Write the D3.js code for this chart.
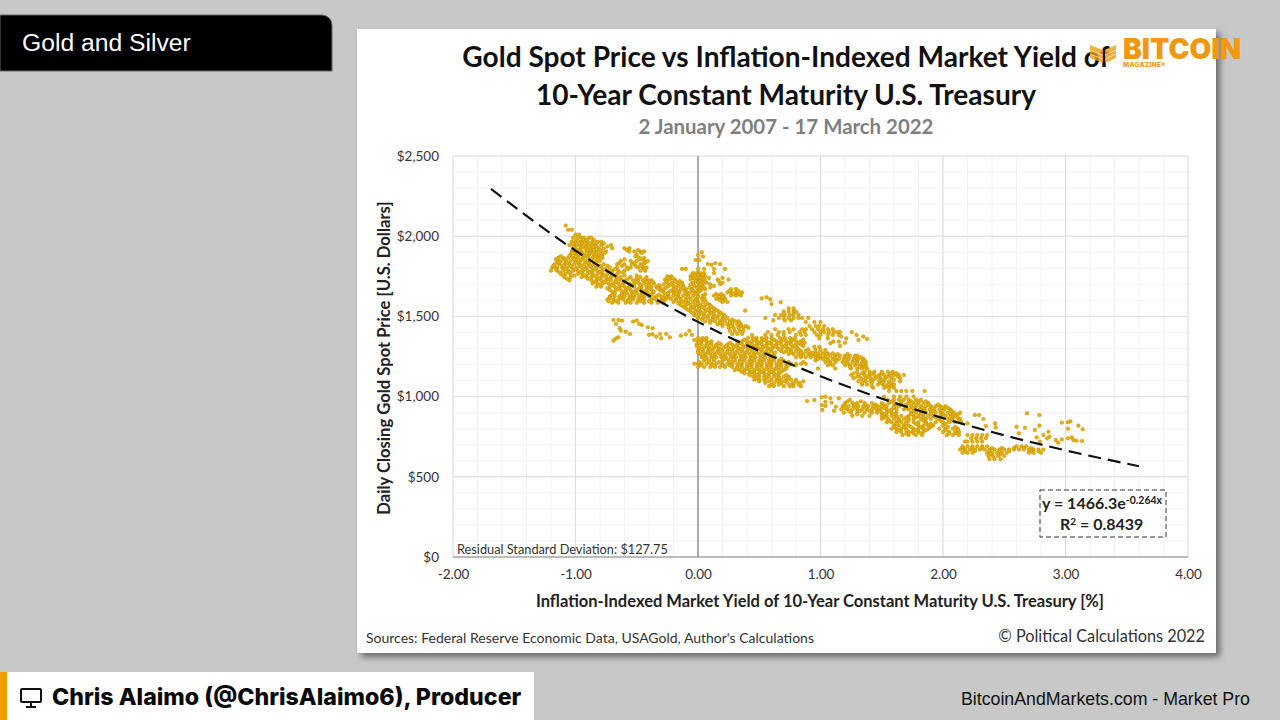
<!DOCTYPE html>
<html>
<head>
<meta charset="utf-8">
<script src="https://cdn.jsdelivr.net/npm/d3@7"></script>
<style>
  html, body { margin: 0; padding: 0; background: #c8c8c8; overflow: hidden; }
  svg { display: block; }
  text { font-family: Lato, sans-serif; }
</style>
</head>
<body>
<svg id="chart" width="1280" height="720"></svg>
<script>
// values: rows of [price, [yields at that price]]
const negativeYieldCluster = [
  [2066, [-1.08]], [2040, [-1.06, -1.03]], [2010, [-1.0, -0.97]],
  [1990, [-1.02, -0.98, -0.95, -0.93, -0.89, -0.87]],
  [1965, [-1.03, -1.0, -0.96, -0.93, -0.9, -0.86, -0.82, -0.79]],
  [1945, [-1.05, -1.01, -0.98, -0.95, -0.91, -0.87, -0.84, -0.79, -0.71]],
  [1925, [-1.0, -0.96, -0.92, -0.88, -0.85, -0.81, -0.77, -0.7, -0.6, -0.56]],
  [1905, [-1.03, -0.99, -0.95, -0.91, -0.87, -0.83, -0.79, -0.75, -0.56, -0.52, -0.47, -0.44]],
  [1885, [-1.04, -1.0, -0.97, -0.93, -0.89, -0.85, -0.81, -0.78, -0.5]],
  [1865, [-1.14, -1.1, -1.06, -1.02, -0.98, -0.94, -0.9, -0.86, -0.82, -0.78, -0.48, -0.44]],
  [1845, [-1.15, -1.12, -1.08, -1.04, -1.0, -0.96, -0.92, -0.88, -0.84, -0.8, -0.63, -0.55, -0.5, -0.44, -0.41]],
  [1825, [-1.17, -1.13, -1.09, -1.05, -1.01, -0.97, -0.93, -0.89, -0.85, -0.77, -0.66, -0.6, -0.54, -0.47, -0.45]],
  [1805, [-1.19, -1.15, -1.11, -1.07, -1.03, -0.99, -0.95, -0.91, -0.87, -0.83, -0.79, -0.72, -0.66, -0.58, -0.55, -0.49, -0.45, -0.42]],
  [1785, [-1.2, -1.15, -1.1, -1.06, -1.02, -0.98, -0.94, -0.9, -0.86, -0.82, -0.78, -0.74, -0.7, -0.65, -0.6, -0.47, -0.43]],
  [1765, [-1.12, -1.08, -1.04, -0.98, -0.94, -0.9, -0.86, -0.82, -0.78, -0.74, -0.7, -0.66]],
  [1745, [-1.09, -1.04, -0.95, -0.91, -0.87, -0.83, -0.79, -0.75, -0.71, -0.67, -0.63, -0.55, -0.47, -0.42]],
  [1725, [-1.05, -0.87, -0.83, -0.79, -0.75, -0.71, -0.67, -0.63, -0.59, -0.53, -0.49, -0.45, -0.41, -0.38]],
  [1705, [-0.86, -0.82, -0.78, -0.73, -0.69, -0.65, -0.61, -0.56, -0.52, -0.48, -0.44, -0.4, -0.36]],
  [1685, [-0.83, -0.79, -0.72, -0.68, -0.64, -0.6, -0.56, -0.52, -0.46, -0.42, -0.38, -0.34, -0.31]],
  [1665, [-0.72, -0.67, -0.63, -0.59, -0.55, -0.5, -0.46, -0.42, -0.38, -0.31]],
  [1645, [-0.68, -0.62, -0.58, -0.54, -0.5, -0.46, -0.41, -0.37]],
  [1625, [-0.72, -0.68, -0.64, -0.6, -0.56, -0.52, -0.48, -0.44, -0.4, -0.34, -0.3]],
  [1605, [-0.74, -0.69, -0.65, -0.61, -0.57, -0.53, -0.49, -0.44, -0.38, -0.34, -0.3, -0.27]],
  [1585, [-0.7, -0.65, -0.59, -0.55, -0.5, -0.44, -0.38, -0.33, -0.28]],
  [1478, [-0.69, -0.65]], [1474, [-0.62, -0.5]], [1468, [-0.53]], [1453, [-0.67, -0.48]], [1447, [-0.46]],
  [1432, [-0.41]], [1426, [-0.64, -0.37]], [1411, [-0.63, -0.07]], [1405, [-0.59]],
  [1390, [-0.555, -0.31, -0.26]], [1388, [-0.37, -0.1]], [1385, [-0.4, -0.05]], [1380, [-0.14]],
  [1374, [-0.34]], [1370, [-0.65, -0.23]], [1364, [-0.3]], [1362, [-0.67]], [1353, [-0.03]], [1349, [-0.69]]
];

const negativeYieldInfill = [
  [1978, [-0.99, -0.94, -0.91, -0.85]], [1955, [-1.02, -0.97, -0.92, -0.88, -0.83, -0.77]],
  [1936, [-1.02, -0.94, -0.89, -0.83, -0.74]], [1914, [-1.01, -0.97, -0.9, -0.85, -0.8, -0.58, -0.49]],
  [1896, [-1.02, -0.95, -0.88, -0.83, -0.76, -0.46]], [1875, [-1.12, -1.05, -1.0, -0.91, -0.84, -0.79, -0.51]],
  [1856, [-1.16, -1.09, -1.01, -0.95, -0.87, -0.81, -0.6, -0.47]], [1835, [-1.14, -1.07, -0.98, -0.9, -0.83, -0.64, -0.52, -0.43]],
  [1815, [-1.18, -1.1, -1.04, -0.96, -0.88, -0.8, -0.74, -0.62, -0.51, -0.46]], [1795, [-1.16, -1.08, -1.0, -0.92, -0.84, -0.76, -0.68, -0.57, -0.44]],
  [1775, [-1.13, -1.05, -0.96, -0.88, -0.8, -0.72, -0.64, -0.61]], [1755, [-1.1, -1.01, -0.93, -0.85, -0.77, -0.69, -0.6, -0.5]],
  [1735, [-1.07, -0.9, -0.81, -0.73, -0.65, -0.57, -0.5, -0.43]], [1715, [-0.84, -0.76, -0.67, -0.6, -0.5, -0.42, -0.37]],
  [1695, [-0.8, -0.7, -0.62, -0.54, -0.47, -0.4, -0.32]], [1675, [-0.74, -0.65, -0.57, -0.48, -0.4, -0.33]],
  [1655, [-0.7, -0.6, -0.52, -0.44, -0.36]], [1635, [-0.7, -0.62, -0.53, -0.46, -0.38, -0.32]],
  [1615, [-0.72, -0.63, -0.55, -0.46, -0.36, -0.28]], [1595, [-0.73, -0.67, -0.57, -0.47, -0.4, -0.3]]
];

const zeroYieldSpike = [
  [1900, [0.03]], [1883, [0.0]], [1873, [0.04]], [1852, [-0.02, 0.01]], [1831, [0.14]], [1827, [0.08, 0.18]], [1821, [0.11]],
  [1796, [-0.13, -0.1, 0.0, 0.05, 0.13, 0.22]],
  [1770, [-0.04, -0.01, 0.02, 0.05, 0.13]],
  [1750, [-0.25, -0.22, -0.06, -0.03, 0.0, 0.03, 0.06]],
  [1730, [-0.27, -0.23, -0.19, -0.06, -0.02, 0.02, 0.05, 0.16, 0.25]],
  [1710, [-0.25, -0.21, -0.17, -0.13, -0.04, 0.0, 0.04, 0.07, 0.2]],
  [1690, [-0.24, -0.2, -0.16, -0.12, -0.03, 0.01, 0.04, 0.13]],
  [1670, [-0.28, -0.2, -0.14, -0.1, -0.05, 0.0, 0.03, 0.06, 0.27, 0.31]],
  [1650, [-0.28, -0.24, -0.2, -0.15, -0.09, -0.06, -0.02, 0.0, 0.24, 0.27, 0.31, 0.36]],
  [1630, [-0.27, -0.24, -0.2, -0.16, -0.12, -0.08, -0.04, 0.0, 0.04, 0.13, 0.17, 0.21, 0.27, 0.31, 0.35]],
  [1610, [-0.26, -0.22, -0.18, -0.14, -0.1, -0.06, -0.02, 0.03, 0.15, 0.19, 0.22]],
  [1590, [-0.2, -0.15, -0.12, -0.08, -0.04, 0.0, 0.04, 0.2, 0.24]],
  [1570, [-0.14, -0.1, -0.06, -0.02, 0.02, 0.06, 0.1]],
  [1550, [-0.1, -0.06, -0.03, 0.01, 0.05, 0.09, 0.13]],
  [1530, [-0.06, -0.02, 0.02, 0.06, 0.1, 0.13, 0.17]],
  [1510, [-0.03, 0.01, 0.05, 0.09, 0.13, 0.17, 0.21]],
  [1490, [0.0, 0.04, 0.08, 0.12, 0.16, 0.2, 0.24]],
  [1470, [0.06, 0.1, 0.14, 0.18, 0.22, 0.26, 0.3, 0.33]],
  [1450, [0.16, 0.2, 0.24, 0.28, 0.32, 0.35]],
  [1430, [0.25, 0.29, 0.33, 0.37, 0.41]],
  [1410, [0.26, 0.3, 0.34, 0.37]], [1390, [0.28, 0.32, 0.36]]
];

const zeroYieldInfill = [
  [1760, [-0.05, 0.0, 0.04]], [1740, [-0.24, -0.21, -0.04, 0.03, 0.09, 0.2]], [1720, [-0.26, -0.19, -0.15, -0.02, 0.02, 0.06, 0.17]],
  [1700, [-0.28, -0.22, -0.14, -0.06, 0.02, 0.1, 0.18]], [1680, [-0.26, -0.18, -0.12, -0.07, -0.01, 0.05, 0.1]],
  [1660, [-0.3, -0.22, -0.17, -0.11, -0.04, 0.02, 0.26, 0.33]], [1640, [-0.25, -0.18, -0.1, -0.02, 0.06, 0.15, 0.19, 0.29, 0.33]],
  [1620, [-0.24, -0.16, -0.08, 0.0, 0.05, 0.17, 0.2]], [1600, [-0.18, -0.1, -0.02, 0.06, 0.18, 0.22]], [1580, [-0.16, -0.08, 0.0, 0.08]],
  [1560, [-0.12, -0.04, 0.03, 0.11]], [1540, [-0.08, 0.0, 0.08, 0.15]], [1520, [-0.04, 0.03, 0.11, 0.19]], [1500, [-0.01, 0.06, 0.14, 0.22]],
  [1480, [0.03, 0.12, 0.2, 0.28]], [1460, [0.1, 0.18, 0.26, 0.34]], [1440, [0.2, 0.27, 0.35, 0.39]]
];

const mainCluster = [
  [1365, [0.0, 0.04, 0.07, 0.41, 0.45, 0.48, 0.52, 0.56, 0.6, 0.67, 0.71, 0.75, 0.79]],
  [1345, [0.0, 0.03, 0.07, 0.11, 0.32, 0.36, 0.4, 0.44, 0.48, 0.52, 0.56, 0.6, 0.64, 0.68, 0.72, 0.76, 0.8, 0.84]],
  [1325, [-0.01, 0.03, 0.07, 0.11, 0.15, 0.19, 0.24, 0.28, 0.32, 0.36, 0.4, 0.44, 0.48, 0.52, 0.56, 0.6, 0.64, 0.68, 0.72, 0.76, 0.8, 0.84]],
  [1305, [0.01, 0.05, 0.09, 0.13, 0.17, 0.21, 0.25, 0.29, 0.33, 0.37, 0.41, 0.45, 0.49, 0.53, 0.57, 0.61, 0.65, 0.69, 0.73, 0.77, 0.81]],
  [1285, [0.0, 0.04, 0.08, 0.12, 0.16, 0.2, 0.24, 0.28, 0.32, 0.36, 0.4, 0.44, 0.48, 0.52, 0.56, 0.6, 0.68, 0.72, 0.76, 0.8, 0.84, 0.88]],
  [1265, [0.02, 0.06, 0.1, 0.14, 0.18, 0.22, 0.26, 0.3, 0.34, 0.38, 0.42, 0.46, 0.5, 0.54, 0.58, 0.62, 0.74, 0.78, 0.82, 0.86, 0.9, 0.94]],
  [1245, [0.03, 0.07, 0.11, 0.15, 0.19, 0.23, 0.27, 0.31, 0.35, 0.39, 0.43, 0.47, 0.51, 0.55, 0.59, 0.63, 0.8, 0.84, 0.88, 0.92, 0.96, 1.0]],
  [1225, [0.05, 0.09, 0.13, 0.2, 0.25, 0.3, 0.34, 0.38, 0.42, 0.46, 0.5, 0.54, 0.58, 0.62, 0.66, 0.7, 0.96]],
  [1205, [-0.03, 0.0, 0.03, 0.07, 0.11, 0.15, 0.2, 0.24, 0.28, 0.32, 0.36, 0.4, 0.44, 0.48, 0.52, 0.56, 0.6, 0.64, 0.68, 0.72, 0.76, 0.8, 0.84, 0.88]],
  [1185, [0.0, 0.05, 0.1, 0.14, 0.18, 0.22, 0.28, 0.32, 0.36, 0.4, 0.44, 0.48, 0.52, 0.56, 0.6, 0.64, 0.68, 0.72]],
  [1165, [0.3, 0.34, 0.38, 0.42, 0.46, 0.5, 0.54, 0.58, 0.62, 0.66, 0.7]],
  [1145, [0.38, 0.42, 0.46, 0.5, 0.54, 0.58, 0.62, 0.66]],
  [1125, [0.45, 0.5, 0.54, 0.58, 0.62, 0.66, 0.7, 0.74]],
  [1105, [0.46, 0.5, 0.54, 0.6, 0.64, 0.68, 0.72, 0.76, 0.8]],
  [1085, [0.55, 0.62, 0.68, 0.73, 0.78, 0.83]],
  [1065, [0.58, 0.62, 0.7, 0.75, 0.78, 0.84]]
];

const mainClusterInfill = [
  [1355, [0.02, 0.05, 0.38, 0.46, 0.54, 0.62, 0.69, 0.77, 0.86]], [1335, [0.01, 0.09, 0.17, 0.26, 0.34, 0.42, 0.5, 0.58, 0.66, 0.74, 0.82, 0.87]],
  [1315, [-0.01, 0.07, 0.15, 0.23, 0.31, 0.39, 0.47, 0.55, 0.63, 0.71, 0.79, 0.86]], [1295, [0.03, 0.1, 0.18, 0.27, 0.35, 0.43, 0.51, 0.59, 0.66, 0.74, 0.82, 0.9]],
  [1275, [0.0, 0.08, 0.16, 0.24, 0.31, 0.39, 0.47, 0.55, 0.63, 0.7, 0.76, 0.84, 0.92]], [1255, [0.04, 0.12, 0.2, 0.28, 0.37, 0.45, 0.53, 0.61, 0.84, 0.92, 0.98]],
  [1235, [0.06, 0.13, 0.22, 0.29, 0.36, 0.44, 0.52, 0.6, 0.68, 0.98]], [1215, [0.01, 0.09, 0.17, 0.27, 0.35, 0.43, 0.51, 0.59, 0.67, 0.74, 0.86]],
  [1195, [0.02, 0.12, 0.2, 0.26, 0.34, 0.42, 0.5, 0.58, 0.66, 0.74, 0.8]], [1175, [0.32, 0.4, 0.48, 0.56, 0.64, 0.72]],
  [1155, [0.36, 0.44, 0.52, 0.6, 0.68]], [1135, [0.42, 0.48, 0.56, 0.64, 0.72]], [1115, [0.48, 0.56, 0.66, 0.74]],
  [1095, [0.5, 0.58, 0.65, 0.71, 0.8, 0.86]], [1075, [0.6, 0.66, 0.76, 0.82]]
];

const upperRightCluster = [
  [1619, [0.56]], [1613, [0.52]], [1606, [0.59]], [1588, [0.675]], [1577, [0.6]], [1536, [0.385]],
  [1550, [0.74, 0.78]], [1530, [0.7, 0.74, 0.78, 0.8]], [1510, [0.63, 0.68, 0.71, 0.75, 0.78, 0.82]],
  [1490, [0.55, 0.66, 0.7, 0.74, 0.78, 0.82, 0.85, 0.9]], [1475, [0.615, 0.71, 0.76]],
  [1465, [0.88, 0.95, 1.0]], [1440, [0.91, 0.96, 0.99, 1.03]], [1420, [0.63, 0.74, 0.78, 0.85, 0.88, 0.93, 0.98, 1.02, 1.06, 1.1]],
  [1402, [0.57, 0.66, 0.7, 0.75, 0.83, 0.87, 0.95, 1.0, 1.03, 1.07, 1.11, 1.14, 1.16, 1.255]],
  [1384, [0.44, 0.55, 0.6, 0.65, 0.7, 0.8, 0.84, 0.88, 0.97, 1.0, 1.06, 1.1, 1.15, 1.295]],
  [1374, [1.17, 1.35]], [1363, [0.99, 1.06, 1.21]], [1359, [1.38]], [1353, [1.31]], [1343, [1.105, 1.15]],
  [1336, [1.2]], [1332, [1.08]], [1316, [1.16]]
];

const declineBand = [
  [1310, [0.95, 0.99]], [1290, [0.96, 1.0, 1.04]], [1270, [0.94, 0.98, 1.02, 1.06, 1.1]],
  [1255, [1.0, 1.04, 1.08, 1.12, 1.16, 1.2, 1.24, 1.28, 1.3]],
  [1235, [1.02, 1.06, 1.1, 1.15, 1.19, 1.23, 1.27, 1.31, 1.35]],
  [1215, [1.04, 1.08, 1.12, 1.18, 1.22, 1.26, 1.3, 1.34, 1.37]],
  [1195, [1.06, 1.1, 1.2, 1.24, 1.28, 1.33, 1.37]],
  [1175, [0.98, 1.12, 1.25, 1.3, 1.34, 1.38]],
  [1155, [1.3, 1.36, 1.4, 1.44, 1.5, 1.55, 1.59]],
  [1135, [1.25, 1.31, 1.36, 1.4, 1.44, 1.48, 1.52, 1.56, 1.6, 1.64, 1.68]],
  [1115, [1.27, 1.33, 1.37, 1.41, 1.45, 1.49, 1.53, 1.58, 1.65]],
  [1095, [1.31, 1.37, 1.41, 1.48, 1.52, 1.56, 1.65]],
  [1075, [1.34, 1.38, 1.47, 1.51, 1.55, 1.6]],
  [1055, [1.43, 1.52, 1.56, 1.6]],
  [1035, [1.56, 1.62, 1.66, 1.7, 1.75, 1.85]]
];

const lowerBand = [
  [1000, [1.04, 1.52, 1.6, 1.65, 1.7, 1.76]], [996, [1.01]], [989, [1.08, 1.15]], [979, [0.95]], [973, [0.89]],
  [968, [1.04]], [962, [1.09]], [948, [1.01]], [942, [1.04]], [937, [1.125]], [917, [1.015]], [912, [1.11]],
  [980, [1.24, 1.55, 1.6, 1.64, 1.68, 1.72, 1.78, 1.82]],
  [960, [1.2, 1.26, 1.3, 1.36, 1.42, 1.5, 1.56, 1.6, 1.66, 1.72, 1.76, 1.8, 1.84, 1.88]],
  [940, [1.18, 1.23, 1.27, 1.31, 1.35, 1.39, 1.43, 1.47, 1.5, 1.54, 1.6, 1.64, 1.7, 1.74, 1.78, 1.82, 1.86, 1.9, 1.94, 1.98, 2.02]],
  [920, [1.17, 1.22, 1.26, 1.3, 1.34, 1.38, 1.42, 1.46, 1.49, 1.54, 1.58, 1.62, 1.68, 1.72, 1.77, 1.81, 1.85, 1.89, 1.93, 1.97, 2.01, 2.06]],
  [900, [1.19, 1.25, 1.3, 1.36, 1.42, 1.46, 1.5, 1.54, 1.58, 1.62, 1.74, 1.78, 1.82, 1.86, 1.9, 1.94, 1.98, 2.04, 2.09, 2.14]],
  [880, [1.26, 1.34, 1.4, 1.5, 1.54, 1.58, 1.62, 1.66, 1.72, 1.76, 1.8, 1.84, 1.88, 1.92, 1.98, 2.02, 2.08, 2.1]],
  [860, [1.5, 1.55, 1.6, 1.64, 1.68, 1.72, 1.76, 1.82, 1.86, 1.9, 1.96, 2.04, 2.08, 2.14]],
  [840, [1.54, 1.58, 1.62, 1.66, 1.7, 1.76, 1.8, 1.86, 1.94, 2.0, 2.05, 2.1, 2.15]],
  [820, [1.6, 1.64, 1.68, 1.72, 1.8, 1.84, 1.88, 1.92, 2.0]],
  [800, [1.58, 1.62, 1.66, 1.7, 1.76, 1.8, 1.84, 1.88, 1.97, 2.02, 2.08, 2.12]],
  [780, [1.62, 1.66, 1.72, 1.75, 1.8, 1.84, 2.0, 2.05, 2.1, 2.13]],
  [760, [1.67, 1.72, 1.78, 1.83, 2.03, 2.08, 2.13]]
];

const bandInfill = [
  [1265, [0.96, 1.05, 1.14, 1.22]], [1245, [1.04, 1.12, 1.21, 1.29, 1.33]], [1225, [1.06, 1.13, 1.2, 1.28, 1.36]], [1205, [1.08, 1.22, 1.3, 1.35]],
  [1185, [1.24, 1.32, 1.36]], [1145, [1.27, 1.34, 1.42, 1.5, 1.58, 1.62]], [1125, [1.3, 1.39, 1.47, 1.55, 1.63]], [1105, [1.35, 1.43, 1.5, 1.6]],
  [1085, [1.34, 1.42, 1.5, 1.58]], [1065, [1.42, 1.54, 1.58]],
  [970, [1.22, 1.33, 1.58, 1.66, 1.74, 1.8, 1.86]], [950, [1.2, 1.28, 1.37, 1.45, 1.52, 1.62, 1.7, 1.78, 1.88, 1.96]],
  [930, [1.2, 1.29, 1.37, 1.45, 1.52, 1.6, 1.7, 1.75, 1.83, 1.91, 1.99, 2.04]], [910, [1.23, 1.32, 1.4, 1.48, 1.56, 1.76, 1.84, 1.92, 2.0, 2.07]],
  [890, [1.3, 1.52, 1.6, 1.74, 1.82, 1.9, 2.0, 2.06, 2.12]], [870, [1.52, 1.62, 1.7, 1.78, 1.84, 1.94, 2.06, 2.12]],
  [850, [1.56, 1.64, 1.72, 1.84, 1.98, 2.07, 2.13]], [830, [1.62, 1.7, 1.78, 1.86, 1.9, 2.02]], [810, [1.6, 1.68, 1.74, 1.82, 1.9, 2.04, 2.1]],
  [790, [1.64, 1.7, 1.78, 1.86, 2.02, 2.12]], [770, [1.7, 1.76, 1.82, 2.05, 2.11]]
];

const positiveTail = [
  [896, [2.686]], [885, [2.26, 2.295, 2.787]], [860, [2.33]], [846, [3.04]], [840, [3.02]], [838, [2.97]],
  [833, [2.2, 2.425]], [819, [2.787, 3.105]], [817, [2.35]], [812, [2.6]], [808, [2.43]], [806, [2.67]],
  [800, [3.02]], [796, [3.14]], [792, [2.75]], [781, [2.86]], [771, [2.62]], [761, [2.82]], [750, [2.87]],
  [746, [2.765, 3.05]], [740, [2.85, 3.02]], [733, [2.97]], [729, [2.92, 3.065]], [725, [3.09]], [723, [3.135]],
  [719, [2.79]], [713, [2.94]],
  [760, [2.2, 2.24, 2.28, 2.32, 2.36]], [740, [2.23, 2.27, 2.31, 2.35]], [720, [2.18, 2.2, 2.24, 2.28, 2.32]],
  [690, [2.16, 2.2, 2.24, 2.28, 2.32, 2.36, 2.6, 2.64, 2.68]],
  [680, [2.16, 2.24, 2.32, 2.4, 2.48, 2.58, 2.66, 2.72]],
  [670, [2.14, 2.18, 2.22, 2.26, 2.3, 2.34, 2.38, 2.42, 2.46, 2.5, 2.54, 2.58, 2.62, 2.66, 2.7, 2.74, 2.78, 2.82]],
  [660, [2.18, 2.26, 2.38, 2.46, 2.54, 2.72, 2.78]],
  [650, [2.16, 2.2, 2.24, 2.36, 2.4, 2.44, 2.48, 2.52, 2.7, 2.74, 2.8]],
  [640, [2.39, 2.47]], [630, [2.37, 2.41, 2.45, 2.5]], [610, [2.38, 2.42, 2.47]]
];

// dashed fit line
const trendYields = [-1.69, -1, 0, 1, 2, 3, 3.6];
const trendPrices = [2295, 1910, 1466, 1127, 866, 665, 566];

const xMajorTicks = [-2, -1, 0, 1, 2, 3, 4];
const yMajorTicks = [0, 500, 1000, 1500, 2000, 2500];
const xMinorTicks = d3.range(-20, 41, 2).map(d => d / 10);
const yMinorTicks = d3.range(0, 2501, 100);

const titleLines = ['Gold Spot Price vs Inflation-Indexed Market Yield of', '10-Year Constant Maturity U.S. Treasury'];

const svg = d3.select('#chart');

// slide furniture
svg.append('rect').attr('width', 1280).attr('height', 720).attr('fill', '#c8c8c8');
svg.append('path')
  .attr('d', 'M0,15H322a10,10 0 0 1 10,10V71H0Z')
  .attr('fill', '#000').attr('stroke', '#666').attr('stroke-width', 1);
svg.append('text').attr('x', 22).attr('y', 51).text('Gold and Silver')
  .style('font-family', 'Liberation Sans').style('font-size', '24.7px').attr('fill', '#fff');

svg.append('rect').attr('x', 0).attr('y', 672).attr('width', 534).attr('height', 48).attr('fill', '#fff');
svg.append('rect').attr('x', 0).attr('y', 672).attr('width', 7).attr('height', 48).attr('fill', '#f59b00');
const monitor = svg.append('g').attr('fill', 'none').attr('stroke', '#111').attr('stroke-width', 2);
monitor.append('rect').attr('x', 21).attr('y', 689).attr('width', 20).attr('height', 13).attr('rx', 1);
monitor.append('path').attr('d', 'M31,702V706M26,707H36');
svg.append('text').attr('x', 52).attr('y', 705).text('Chris Alaimo (@ChrisAlaimo6), Producer')
  .style('font-family', 'Inter').style('font-size', '23.2px').style('font-weight', 800).attr('fill', '#0a0a0a');
svg.append('text').attr('x', 1250).attr('y', 705).attr('text-anchor', 'end').text('BitcoinAndMarkets.com - Market Pro')
  .style('font-family', 'Liberation Sans').style('font-size', '17.75px').attr('fill', '#111');

// white chart panel with its shadow
const panelShadow = svg.append('defs').append('filter').attr('id', 'panel-shadow')
  .attr('x', '-5%').attr('y', '-5%').attr('width', '110%').attr('height', '110%');
panelShadow.append('feGaussianBlur').attr('stdDeviation', 3);
svg.append('rect').attr('x', 361).attr('y', 33).attr('width', 859).attr('height', 624)
  .attr('fill', '#6a6a6a').attr('filter', 'url(#panel-shadow)');
svg.append('rect').attr('x', 357).attr('y', 29).attr('width', 859).attr('height', 624).attr('fill', '#fff');

const x = d3.scaleLinear().domain([-2, 4]).range([453, 1188]);
const y = d3.scaleLinear().domain([0, 2500]).range([557, 156]);

// grid
const grid = svg.append('g');
grid.selectAll('.minor-x').data(xMinorTicks).join('line')
  .attr('x1', d => x(d)).attr('x2', d => x(d)).attr('y1', y(2500)).attr('y2', y(0))
  .attr('stroke', '#f2f2f2');
grid.selectAll('.minor-y').data(yMinorTicks).join('line')
  .attr('x1', x(-2)).attr('x2', x(4)).attr('y1', d => y(d)).attr('y2', d => y(d))
  .attr('stroke', '#f2f2f2');
grid.selectAll('.major-x').data(xMajorTicks).join('line')
  .attr('x1', d => x(d)).attr('x2', d => x(d)).attr('y1', y(2500)).attr('y2', y(0))
  .attr('stroke', '#dcdcdc');
grid.selectAll('.major-y').data(yMajorTicks).join('line')
  .attr('x1', x(-2)).attr('x2', x(4)).attr('y1', d => y(d)).attr('y2', d => y(d))
  .attr('stroke', '#dcdcdc');
grid.append('line').attr('x1', x(0)).attr('x2', x(0)).attr('y1', y(2500)).attr('y2', y(0))
  .attr('stroke', '#808080').attr('stroke-width', 1.2);
grid.append('line').attr('x1', x(-2)).attr('x2', x(4)).attr('y1', y(0)).attr('y2', y(0))
  .attr('stroke', '#8c8c8c').attr('stroke-width', 1.2);

// axes
const xAxis = svg.append('g').attr('transform', `translate(0,${y(0)})`)
  .call(d3.axisBottom(x).tickValues(xMajorTicks).tickFormat(d => d.toFixed(2)).tickSize(0).tickPadding(12));
const yAxis = svg.append('g').attr('transform', `translate(${x(-2)},0)`)
  .call(d3.axisLeft(y).tickValues(yMajorTicks).tickFormat(d => '$' + d3.format(',')(d)).tickSize(0).tickPadding(14));
xAxis.select('.domain').remove();
yAxis.select('.domain').remove();
svg.selectAll('.tick text').style('font-family', 'Lato').style('font-size', '13.5px').attr('fill', '#333');

// points
const clusters = [negativeYieldCluster, negativeYieldInfill, zeroYieldSpike, zeroYieldInfill, mainCluster, mainClusterInfill,
  upperRightCluster, declineBand, lowerBand, bandInfill, positiveTail];
const points = clusters.flatMap(rows => rows.flatMap(([price, yields]) => yields.map(yld => ({ yld, price }))));
svg.append('g').selectAll('circle').data(points).join('circle')
  .attr('cx', d => x(d.yld)).attr('cy', d => y(d.price)).attr('r', 1.8)
  .attr('fill', '#ebb000').attr('stroke', '#b28e00').attr('stroke-width', 0.5);

// trend line
const trendLine = d3.line().x(d => x(d[0])).y(d => y(d[1])).curve(d3.curveMonotoneX);
svg.append('path').datum(d3.zip(trendYields, trendPrices)).attr('d', trendLine)
  .attr('fill', 'none').attr('stroke', '#111').attr('stroke-width', 2.2).attr('stroke-dasharray', '13,7');

// titles
svg.selectAll('.title').data(titleLines).join('text')
  .attr('x', 786).attr('y', (d, i) => 67 + i * 38).attr('text-anchor', 'middle').text(d => d)
  .style('font-size', '28.1px').style('font-weight', 700).attr('fill', '#111');
svg.append('text').attr('x', 786).attr('y', 134).attr('text-anchor', 'middle').text('2 January 2007 - 17 March 2022')
  .style('font-size', '20.4px').style('font-weight', 700).attr('fill', '#7f7f7f');

// axis titles
svg.append('text').attr('x', 820).attr('y', 607).attr('text-anchor', 'middle')
  .text('Inflation-Indexed Market Yield of 10-Year Constant Maturity U.S. Treasury [%]')
  .style('font-size', '16.5px').style('font-weight', 700).attr('fill', '#222');
svg.append('text').attr('transform', 'translate(390,358) rotate(-90)').attr('text-anchor', 'middle')
  .text('Daily Closing Gold Spot Price [U.S. Dollars]')
  .style('font-size', '16.6px').style('font-weight', 700).attr('fill', '#222');

// annotations
svg.append('text').attr('x', 457).attr('y', 554).text('Residual Standard Deviation: $127.75')
  .style('font-size', '12.75px').attr('fill', '#333');
svg.append('rect').attr('x', 1040).attr('y', 490).attr('width', 126).attr('height', 47)
  .attr('fill', '#fff').attr('stroke', '#333').attr('stroke-dasharray', '5,3');
const equation = svg.append('text').attr('x', 1042).attr('y', 509)
  .style('font-size', '16px').style('font-weight', 700).attr('fill', '#222');
equation.append('tspan').text('y = 1466.3e');
equation.append('tspan').attr('dy', -5).style('font-size', '10.5px').text('-0.264x');
const rSquared = svg.append('text').attr('x', 1060).attr('y', 530)
  .style('font-size', '16px').style('font-weight', 700).attr('fill', '#222');
rSquared.append('tspan').text('R');
rSquared.append('tspan').attr('dy', -5).style('font-size', '10px').text('2');
rSquared.append('tspan').attr('dy', 5).text(' = 0.8439');

// footer
svg.append('text').attr('x', 366).attr('y', 643).text("Sources: Federal Reserve Economic Data, USAGold, Author's Calculations")
  .style('font-size', '14px').attr('fill', '#333');
svg.append('text').attr('x', 1205).attr('y', 642).attr('text-anchor', 'end').text('© Political Calculations 2022')
  .style('font-size', '16.3px').attr('fill', '#333');

// logo overlay
const logo = svg.append('g').attr('fill', '#f0980f');
logo.append('path').attr('d', 'M1090,45L1103,50V63L1090,58ZM1105,50L1116,45V58L1105,63Z').attr('opacity', 0.8);
logo.append('path').attr('d', 'M1090,50L1103,55M1090,54L1103,59M1105,55L1116,50M1105,59L1116,54')
  .attr('stroke', '#fff').attr('stroke-width', 1).attr('opacity', 0.6);
logo.append('text').attr('x', 1123).attr('y', 59).text('BITCOIN')
  .style('font-family', 'Inter').style('font-size', '28.2px').style('font-weight', 900).attr('fill', '#f0980f');
logo.append('text').attr('x', 1123).attr('y', 67).text('MAGAZINE®')
  .style('font-family', 'Inter').style('font-size', '6.5px').style('font-weight', 800).style('letter-spacing', '0.3px').attr('fill', '#f0980f');
</script>
</body>
</html>
